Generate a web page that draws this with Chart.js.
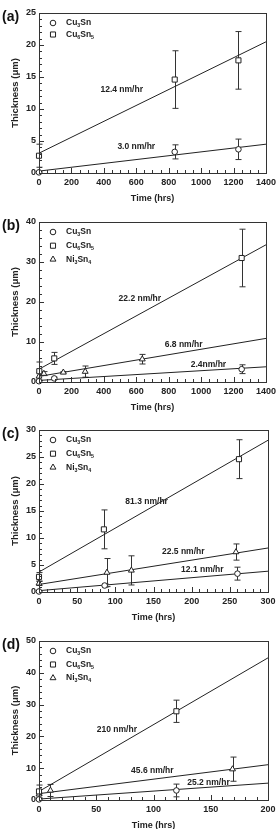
<!DOCTYPE html>
<html>
<head>
<meta charset="utf-8">
<script src="https://cdn.jsdelivr.net/npm/chart.js@4.4.1/dist/chart.umd.min.js"></script>
<style>
html, body { margin: 0; padding: 0; background: #fff; overflow: hidden; }
.panel { position: absolute; left: 0; width: 280px; }
</style>
</head>
<body>
<div class="panel" style="top:0;height:207px"><canvas id="pa"></canvas></div>
<div class="panel" style="top:207px;height:209px"><canvas id="pb"></canvas></div>
<div class="panel" style="top:416px;height:210px"><canvas id="pc"></canvas></div>
<div class="panel" style="top:626px;height:208px"><canvas id="pd"></canvas></div>
<script>
// panel (a)
var aCu3SnX = [0, 837, 1230];
var aCu3SnY = [0.1, 3.3, 3.7];
var aCu3SnErr = [0.1, 1.1, 1.6];
var aCu6Sn5X = [0, 837, 1230];
var aCu6Sn5Y = [2.7, 14.6, 17.6];
var aCu6Sn5Err = [1.8, 4.5, 4.5];
var aFitX = [0, 1400];
var aFitCu6Sn5 = [3.1, 20.5];
var aFitCu3Sn = [0.3, 4.5];
var aRates = ['12.4 nm/hr', '3.0 nm/hr'];
var aRateX = [510, 600];
var aRateY = [13.0, 4.1];

// panel (b)
var bCu3SnX = [0, 94, 1250];
var bCu3SnY = [0.2, 0.9, 3.2];
var bCu3SnErr = [0.2, 0.3, 1.1];
var bCu6Sn5X = [2, 94, 1250];
var bCu6Sn5Y = [2.7, 5.9, 31.0];
var bCu6Sn5Err = [2.3, 1.5, 7.2];
var bNi3Sn4X = [0, 30, 150, 285, 637];
var bNi3Sn4Y = [1.4, 2.1, 2.4, 2.6, 5.7];
var bNi3Sn4Err = [1.0, 0.5, 0.2, 1.4, 1.2];
var bFitX = [0, 1400];
var bFitCu6Sn5 = [3.2, 34.3];
var bFitNi3Sn4 = [1.4, 10.9];
var bFitCu3Sn = [0.4, 3.8];
var bRates = ['22.2 nm/hr', '6.8 nm/hr', '2.4nm/hr'];
var bRateX = [622, 892, 1045];
var bRateY = [20.8, 9.4, 4.4];

// panel (c)
var cCu3SnX = [0, 86, 260];
var cCu3SnY = [0.1, 1.2, 3.4];
var cCu3SnErr = [0.1, 0.3, 1.2];
var cCu6Sn5X = [0, 85, 262];
var cCu6Sn5Y = [2.8, 11.6, 24.6];
var cCu6Sn5Err = [0.8, 3.6, 3.6];
var cNi3Sn4X = [0, 89, 121, 258];
var cNi3Sn4Y = [1.6, 3.6, 4.0, 7.4];
var cNi3Sn4Err = [0.4, 2.6, 2.7, 1.5];
var cFitX = [0, 300];
var cFitCu6Sn5 = [3.7, 28.1];
var cFitNi3Sn4 = [1.4, 8.15];
var cFitCu3Sn = [0.25, 3.85];
var cRates = ['81.3 nm/hr', '22.5 nm/hr', '12.1 nm/hr'];
var cRateX = [141, 189, 214];
var cRateY = [16.7, 7.5, 4.1];

// panel (d)
var dCu3SnX = [0, 120];
var dCu3SnY = [0.2, 3.0];
var dCu3SnErr = [0.2, 2.0];
var dCu6Sn5X = [0, 120];
var dCu6Sn5Y = [2.7, 27.9];
var dCu6Sn5Err = [2.0, 3.5];
var dNi3Sn4X = [0, 10, 169];
var dNi3Sn4Y = [1.8, 3.0, 9.7];
var dNi3Sn4Err = [0.3, 1.9, 3.8];
var dFitX = [0, 200];
var dFitCu6Sn5 = [2.7, 44.7];
var dFitNi3Sn4 = [2.0, 11.1];
var dFitCu3Sn = [0.3, 5.3];
var dRates = ['210 nm/hr', '45.6 nm/hr', '25.2 nm/hr'];
var dRateX = [68, 99, 148];
var dRateY = [22.0, 9.2, 5.4];

var FONT = '"Liberation Sans", Arial, Helvetica, sans-serif';
var INK = '#222';
Chart.defaults.font.family = FONT;
Chart.defaults.font.weight = 'bold';
Chart.defaults.color = INK;
Chart.defaults.animation = false;

function pts(xs, ys) {
  return xs.map(function (x, i) { return { x: x, y: ys[i] }; });
}

function markers(label, style, r, xs, ys, err) {
  return {
    type: 'scatter', label: label, data: pts(xs, ys), err: err,
    pointStyle: style, pointRadius: r, pointHoverRadius: r,
    pointBackgroundColor: '#fff', pointBorderColor: INK, pointBorderWidth: 1,
    showLine: false, clip: false, order: 1
  };
}

function fit(xs, ys) {
  return {
    type: 'line', label: '', data: pts(xs, ys), borderColor: INK, borderWidth: 1,
    pointRadius: 0, fill: false, order: 2, isFit: true
  };
}

// digits are drawn as subscripts
function drawFormula(ctx, text, x, y, size) {
  var cx = x;
  for (var i = 0; i < text.length; i++) {
    var ch = text[i];
    var sub = /[0-9]/.test(ch);
    ctx.font = 'bold ' + (sub ? size * 0.62 : size) + 'px ' + FONT;
    ctx.fillText(ch, cx, sub ? y + size * 0.32 : y);
    cx += ctx.measureText(ch).width;
  }
}

function panel(id, p) {
  var extras = {
    id: 'extras',
    beforeDatasetsDraw: function (chart) {
      var ctx = chart.ctx, xs = chart.scales.x, ys = chart.scales.y;
      ctx.save();
      ctx.strokeStyle = '#333';
      ctx.lineWidth = 1;
      chart.data.datasets.forEach(function (ds) {
        if (!ds.err) return;
        ds.data.forEach(function (d, i) {
          var e = ds.err[i];
          var px = Math.round(xs.getPixelForValue(d.x)) + 0.5;
          var t = ys.getPixelForValue(d.y + e);
          var b = ys.getPixelForValue(d.y - e);
          ctx.beginPath();
          ctx.moveTo(px, t); ctx.lineTo(px, b);
          ctx.moveTo(px - 3, t); ctx.lineTo(px + 3, t);
          ctx.moveTo(px - 3, b); ctx.lineTo(px + 3, b);
          ctx.stroke();
        });
      });
      ctx.restore();
    },
    afterDatasetsDraw: function (chart) {
      var ctx = chart.ctx, xs = chart.scales.x, ys = chart.scales.y, a = chart.chartArea;
      ctx.save();
      // frame
      ctx.strokeStyle = '#333';
      ctx.lineWidth = 1;
      ctx.strokeRect(Math.round(a.left) + 0.5, Math.round(a.top) + 0.5,
        Math.round(a.right - a.left), Math.round(a.bottom - a.top));
      // inward ticks
      ctx.beginPath();
      var n = Math.round(p.xMax / p.xMinor);
      for (var i = 0; i <= n; i++) {
        var v = i * p.xMinor;
        var len = (Math.round(v / p.xStep) * p.xStep === v) ? 5 : 3;
        var px = Math.round(xs.getPixelForValue(v)) + 0.5;
        ctx.moveTo(px, a.bottom); ctx.lineTo(px, a.bottom - len);
      }
      n = Math.round(p.yMax / p.yMinor);
      for (i = 0; i <= n; i++) {
        v = i * p.yMinor;
        len = (Math.round(v / p.yStep) * p.yStep === v) ? 5 : 3;
        var py = Math.round(ys.getPixelForValue(v)) + 0.5;
        ctx.moveTo(a.left, py); ctx.lineTo(a.left + len, py);
      }
      ctx.stroke();
      // rate labels
      ctx.fillStyle = INK;
      ctx.font = 'bold 8.5px ' + FONT;
      ctx.textAlign = 'center';
      ctx.textBaseline = 'middle';
      p.rates.forEach(function (t, k) {
        ctx.fillText(t, xs.getPixelForValue(p.rateX[k]), ys.getPixelForValue(p.rateY[k]));
      });
      // legend
      var row = 0;
      chart.data.datasets.forEach(function (ds) {
        if (ds.isFit) return;
        var lx = a.left + 14, ly = a.top + 10 + row * p.rowGap;
        ctx.fillStyle = '#fff';
        ctx.strokeStyle = INK;
        ctx.lineWidth = 1;
        Chart.helpers.drawPoint(ctx, { pointStyle: ds.pointStyle, radius: ds.pointRadius, borderWidth: 1, rotation: 0 }, lx, ly);
        ctx.fillStyle = INK;
        ctx.textAlign = 'left';
        drawFormula(ctx, ds.label, lx + 13, ly, 8.5);
        row++;
      });
      // panel letter
      ctx.fillStyle = '#111';
      ctx.font = 'bold 14px ' + FONT;
      ctx.textAlign = 'left';
      ctx.textBaseline = 'middle';
      ctx.fillText(p.letter, 2, a.top + 4);
      ctx.restore();
    }
  };

  return new Chart(document.getElementById(id), {
    type: 'scatter',
    data: { datasets: p.sets },
    options: {
      responsive: true,
      maintainAspectRatio: false,
      layout: { padding: { top: p.padTop, right: 12, left: 0, bottom: 0 } },
      plugins: { legend: { display: false }, tooltip: { enabled: false } },
      scales: {
        x: {
          type: 'linear', min: 0, max: p.xMax,
          grid: { display: false, drawTicks: false },
          border: { display: false },
          ticks: {
            stepSize: p.xStep, padding: 4, autoSkip: false, maxRotation: 0,
            font: { size: 9, weight: 'bold' }, color: INK,
            callback: function (v) { return String(v); }
          },
          title: { display: true, text: 'Time (hrs)', font: { size: 9, weight: 'bold' }, color: INK, padding: { top: 0, bottom: 3 } },
          afterFit: function (s) { s.height = 34; }
        },
        y: {
          type: 'linear', min: 0, max: p.yMax,
          grid: { display: false, drawTicks: false },
          border: { display: false },
          ticks: {
            stepSize: p.yStep, padding: 3, font: { size: 9, weight: 'bold' }, color: INK,
            callback: function (v) { return String(v); }
          },
          title: { display: true, text: 'Thickness (\u03bcm)', font: { size: 9.5, weight: 'bold' }, color: INK, padding: { top: 10, bottom: 0 } },
          afterFit: function (s) { s.width = 39; }
        }
      }
    },
    plugins: [extras]
  });
}

panel('pa', {
  letter: '(a)', padTop: 13, xMax: 1400, xStep: 200, xMinor: 50, yMax: 25, yStep: 5, yMinor: 1, rowGap: 11.5,
  rates: aRates, rateX: aRateX, rateY: aRateY,
  sets: [
    markers('Cu3Sn', 'circle', 2.8, aCu3SnX, aCu3SnY, aCu3SnErr),
    markers('Cu6Sn5', 'rect', 3.6, aCu6Sn5X, aCu6Sn5Y, aCu6Sn5Err),
    fit(aFitX, aFitCu6Sn5),
    fit(aFitX, aFitCu3Sn)
  ]
});

panel('pb', {
  letter: '(b)', padTop: 15, xMax: 1400, xStep: 200, xMinor: 50, yMax: 40, yStep: 10, yMinor: 2, rowGap: 13.7,
  rates: bRates, rateX: bRateX, rateY: bRateY,
  sets: [
    markers('Cu3Sn', 'circle', 2.8, bCu3SnX, bCu3SnY, bCu3SnErr),
    markers('Cu6Sn5', 'rect', 3.6, bCu6Sn5X, bCu6Sn5Y, bCu6Sn5Err),
    markers('Ni3Sn4', 'triangle', 3.4, bNi3Sn4X, bNi3Sn4Y, bNi3Sn4Err),
    fit(bFitX, bFitCu6Sn5),
    fit(bFitX, bFitNi3Sn4),
    fit(bFitX, bFitCu3Sn)
  ]
});

panel('pc', {
  letter: '(c)', padTop: 14, xMax: 300, xStep: 50, xMinor: 10, yMax: 30, yStep: 5, yMinor: 1, rowGap: 13.7,
  rates: cRates, rateX: cRateX, rateY: cRateY,
  sets: [
    markers('Cu3Sn', 'circle', 2.8, cCu3SnX, cCu3SnY, cCu3SnErr),
    markers('Cu6Sn5', 'rect', 3.6, cCu6Sn5X, cCu6Sn5Y, cCu6Sn5Err),
    markers('Ni3Sn4', 'triangle', 3.4, cNi3Sn4X, cNi3Sn4Y, cNi3Sn4Err),
    fit(cFitX, cFitCu6Sn5),
    fit(cFitX, cFitNi3Sn4),
    fit(cFitX, cFitCu3Sn)
  ]
});

panel('pd', {
  letter: '(d)', padTop: 15, xMax: 200, xStep: 50, xMinor: 10, yMax: 50, yStep: 10, yMinor: 2, rowGap: 13.5,
  rates: dRates, rateX: dRateX, rateY: dRateY,
  sets: [
    markers('Cu3Sn', 'circle', 2.8, dCu3SnX, dCu3SnY, dCu3SnErr),
    markers('Cu6Sn5', 'rect', 3.6, dCu6Sn5X, dCu6Sn5Y, dCu6Sn5Err),
    markers('Ni3Sn4', 'triangle', 3.4, dNi3Sn4X, dNi3Sn4Y, dNi3Sn4Err),
    fit(dFitX, dFitCu6Sn5),
    fit(dFitX, dFitNi3Sn4),
    fit(dFitX, dFitCu3Sn)
  ]
});
</script>
</body>
</html>
